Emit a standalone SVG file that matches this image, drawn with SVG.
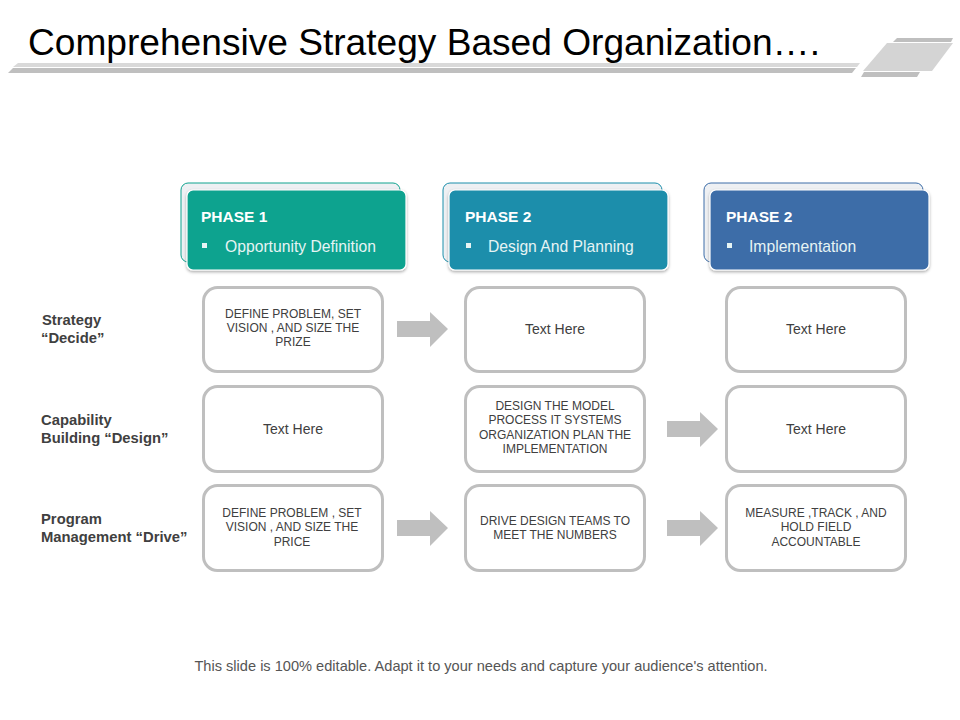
<svg xmlns="http://www.w3.org/2000/svg" width="960" height="720" viewBox="0 0 960 720">
<defs>
<style>
.title{font-family:"Liberation Sans",Arial,sans-serif;font-size:37px;fill:#000}
.ph{font-family:"Liberation Sans",Arial,sans-serif;font-size:15.5px;font-weight:bold;fill:#fff}
.phs{font-family:"Liberation Sans",Arial,sans-serif;font-size:15.7px;fill:#e6f4f4}
.lbl{font-family:"Liberation Sans",Arial,sans-serif;font-size:14.8px;font-weight:bold;fill:#404040}
.bx{fill:#fff;stroke:#bfbfbf;stroke-width:3}
.bt{font-family:"Liberation Sans",Arial,sans-serif;font-size:12px;fill:#404040;text-anchor:middle}
.th{font-family:"Liberation Sans",Arial,sans-serif;font-size:14px;fill:#404040;text-anchor:middle}
.back{fill:#eef0f3;stroke-width:1}
.front{stroke:#ffffff;stroke-width:1.2}
.arr{fill:#bfbfbf}
.foot{font-family:"Liberation Sans",Arial,sans-serif;font-size:14.6px;fill:#555;text-anchor:middle}
</style>
<filter id="sh" x="-10%" y="-10%" width="120%" height="130%">
<feDropShadow dx="0" dy="1.5" stdDeviation="1.5" flood-color="#000" flood-opacity="0.35"/>
</filter>
</defs>
<rect width="960" height="720" fill="#fff"/>

<g id="header">
<text class="title" x="28" y="55" textLength="792" lengthAdjust="spacingAndGlyphs">Comprehensive Strategy Based Organization….</text>
<polygon points="18,63 860,63 857,67 13,67" fill="#d9d9d9"/>
<polygon points="13,68 856,68 852,73 8,73" fill="#bfbfbf"/>
<polygon points="897,38 953,38 951,42 893,42" fill="#bfbfbf"/>
<polygon points="887,43 953,43 932,71 863,71" fill="#d4d4d4"/>
<polygon points="864,72 920,72 917,77 861,77" fill="#bfbfbf"/>
</g>

<g id="phase1">
<rect class="back" x="181" y="183" width="219" height="79" rx="7" stroke="#0fa38f"/>
<rect class="front" x="187" y="190" width="219" height="80" rx="6" fill="#10a38f" filter="url(#sh)"/>
<text class="ph" x="201" y="222">PHASE 1</text>
<rect x="202" y="243" width="5" height="5" fill="#e6f4f4"/>
<text class="phs" x="225" y="252">Opportunity  Definition</text>
</g>
<g id="phase2">
<rect class="back" x="443" y="183" width="219" height="79" rx="7" stroke="#1b8eab"/>
<rect class="front" x="449" y="190" width="219" height="80" rx="6" fill="#1b8eab" filter="url(#sh)"/>
<text class="ph" x="465" y="222">PHASE 2</text>
<rect x="466" y="243" width="5" height="5" fill="#e6f4f4"/>
<text class="phs" x="488" y="252">Design And Planning</text>
</g>
<g id="phase3">
<rect class="back" x="704" y="183" width="219" height="79" rx="7" stroke="#3c6da8"/>
<rect class="front" x="710" y="190" width="219" height="80" rx="6" fill="#3c6da8" filter="url(#sh)"/>
<text class="ph" x="726" y="222">PHASE 2</text>
<rect x="727" y="243" width="5" height="5" fill="#e6f4f4"/>
<text class="phs" x="749" y="252">Implementation</text>
</g>

<g id="labels">
<text class="lbl" x="42" y="325">Strategy</text>
<text class="lbl" x="41" y="343">“Decide”</text>
<text class="lbl" x="41" y="425">Capability</text>
<text class="lbl" x="41" y="443">Building “Design”</text>
<text class="lbl" x="41" y="524">Program</text>
<text class="lbl" x="41" y="542">Management “Drive”</text>
</g>

<g id="r1c1"><rect class="bx" x="203.5" y="287.5" width="179" height="84" rx="14"/>
<text class="bt" x="293" y="318">DEFINE PROBLEM,  SET</text>
<text class="bt" x="293" y="332">VISION  , AND SIZE THE</text>
<text class="bt" x="293" y="346">PRIZE</text></g>
<g id="r1c2"><rect class="bx" x="465.5" y="287.5" width="179" height="84" rx="14"/>
<text class="th" x="555" y="334">Text Here</text></g>
<g id="r1c3"><rect class="bx" x="726.5" y="287.5" width="179" height="84" rx="14"/>
<text class="th" x="816" y="334">Text Here</text></g>

<g id="r2c1"><rect class="bx" x="203.5" y="386.5" width="179" height="85" rx="14"/>
<text class="th" x="293" y="434">Text Here</text></g>
<g id="r2c2"><rect class="bx" x="465.5" y="386.5" width="179" height="85" rx="14"/>
<text class="bt" x="555" y="410">DESIGN THE MODEL</text>
<text class="bt" x="555" y="424">PROCESS IT  SYSTEMS</text>
<text class="bt" x="555" y="439">ORGANIZATION  PLAN THE</text>
<text class="bt" x="555" y="453">IMPLEMENTATION</text></g>
<g id="r2c3"><rect class="bx" x="726.5" y="386.5" width="179" height="85" rx="14"/>
<text class="th" x="816" y="434">Text Here</text></g>

<g id="r3c1"><rect class="bx" x="203.5" y="485.5" width="179" height="85" rx="14"/>
<text class="bt" x="292" y="517">DEFINE PROBLEM  ,  SET</text>
<text class="bt" x="292" y="531">VISION  , AND SIZE THE</text>
<text class="bt" x="292" y="546">PRICE</text></g>
<g id="r3c2"><rect class="bx" x="465.5" y="485.5" width="179" height="85" rx="14"/>
<text class="bt" x="555" y="525">DRIVE DESIGN TEAMS  TO</text>
<text class="bt" x="555" y="539">MEET  THE NUMBERS</text></g>
<g id="r3c3"><rect class="bx" x="726.5" y="485.5" width="179" height="85" rx="14"/>
<text class="bt" x="816" y="517">MEASURE  ,TRACK  ,  AND</text>
<text class="bt" x="816" y="531">HOLD FIELD</text>
<text class="bt" x="816" y="546">ACCOUNTABLE</text></g>

<g id="connectors">
<polygon class="arr" points="397,321 430,321 430,312 448,329 430,347 430,337 397,337"/>
<polygon class="arr" points="667,421 700,421 700,412 718,429 700,447 700,437 667,437"/>
<polygon class="arr" points="397,520 430,520 430,511 448,528 430,546 430,536 397,536"/>
<polygon class="arr" points="667,520 700,520 700,511 718,528 700,546 700,536 667,536"/>
</g>

<text class="foot" x="481" y="671">This slide is 100% editable. Adapt it to your needs and capture your audience's attention.</text>
</svg>
